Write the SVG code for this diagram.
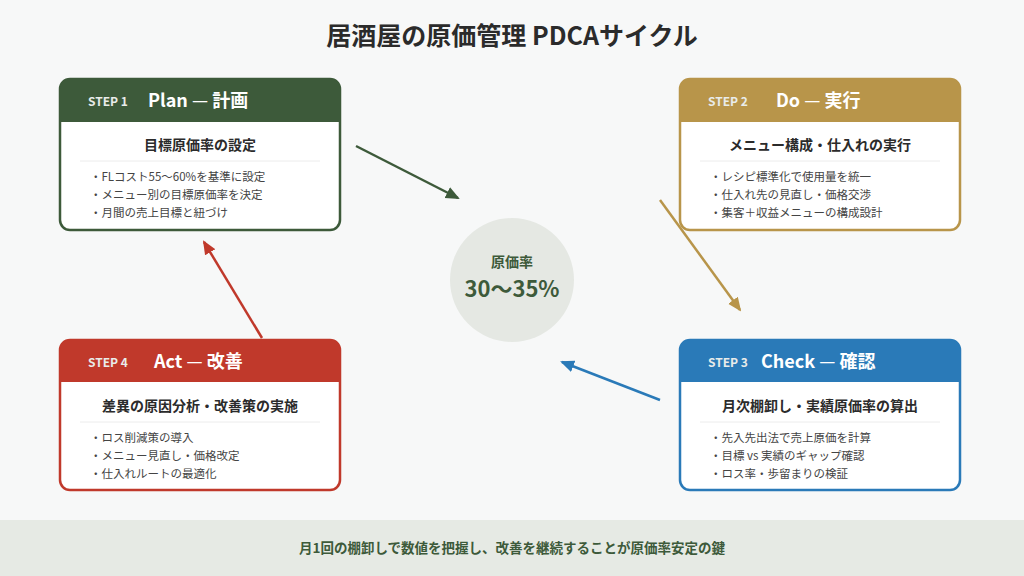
<svg xmlns="http://www.w3.org/2000/svg" width="1024" height="576" viewBox="0 0 1024 576">
<style>
text{font-family:"Noto Sans CJK JP","Noto Sans",sans-serif}
.card{fill:#fff;stroke-width:2.5}
.step{font-size:12px;font-weight:700;fill:#e9ecea}
.ttl{font-size:18px;font-weight:700;fill:#fff}
.d{font-weight:400}
.sub{font-size:14px;font-weight:700;fill:#2b2b2b;text-anchor:middle}
.it{font-size:11.5px;fill:#444}
.sep{stroke:#ececec;stroke-width:1}
</style>
<defs>
<marker id="mg" markerWidth="14" markerHeight="14" refX="12" refY="7" orient="auto" markerUnits="userSpaceOnUse"><path d="M0,1L14,7L0,13z" fill="#3d5a3a"/></marker>
<marker id="my" markerWidth="14" markerHeight="14" refX="12" refY="7" orient="auto" markerUnits="userSpaceOnUse"><path d="M0,1L14,7L0,13z" fill="#b8954a"/></marker>
<marker id="mb" markerWidth="14" markerHeight="14" refX="12" refY="7" orient="auto" markerUnits="userSpaceOnUse"><path d="M0,1L14,7L0,13z" fill="#2a7ab8"/></marker>
<marker id="mr" markerWidth="14" markerHeight="14" refX="12" refY="7" orient="auto" markerUnits="userSpaceOnUse"><path d="M0,1L14,7L0,13z" fill="#c0392b"/></marker>
</defs>
<rect width="1024" height="576" fill="#f7f8f8"/>
<text x="512" y="45" text-anchor="middle" font-size="25" font-weight="700" fill="#2b2b2b">居酒屋の原価管理 PDCAサイクル</text>
<g id="center"><circle cx="512" cy="280" r="62" fill="#e5e8e3"/>
<text x="512" y="267" text-anchor="middle" font-size="14" font-weight="700" fill="#3d5a3a">原価率</text>
<text x="512" y="297" text-anchor="middle" font-size="22" font-weight="700" fill="#3d5a3a">30〜35%</text></g>
<g id="connectors" stroke-width="2.5">
<line x1="356" y1="146" x2="458" y2="198" stroke="#3d5a3a" marker-end="url(#mg)"/>
<line x1="660" y1="200" x2="740" y2="310" stroke="#b8954a" marker-end="url(#my)"/>
<line x1="660" y1="400" x2="562" y2="362" stroke="#2a7ab8" marker-end="url(#mb)"/>
<line x1="262" y1="338" x2="204" y2="242" stroke="#c0392b" marker-end="url(#mr)"/>
</g>
<g id="plan">
<rect class="card" x="60" y="79" width="280" height="151" rx="10" stroke="#3d5a3a"/>
<path d="M60,89a10,10 0 0 1 10,-10h260a10,10 0 0 1 10,10v33h-280z" fill="#3d5a3a"/>
<text class="step" x="88" y="106">STEP 1</text><text class="ttl" x="148" y="107">Plan <tspan class="d">—</tspan> 計画</text>
<text class="sub" x="200" y="150">目標原価率の設定</text><line class="sep" x1="80" y1="161" x2="320" y2="161"/>
<text class="it" x="90" y="181">・FLコスト55〜60%を基準に設定</text>
<text class="it" x="90" y="199">・メニュー別の目標原価率を決定</text>
<text class="it" x="90" y="217">・月間の売上目標と紐づけ</text>
</g>
<g id="do">
<rect class="card" x="680" y="79" width="280" height="151" rx="10" stroke="#b8954a"/>
<path d="M680,89a10,10 0 0 1 10,-10h260a10,10 0 0 1 10,10v33h-280z" fill="#b8954a"/>
<text class="step" x="708" y="106">STEP 2</text><text class="ttl" x="776" y="107">Do <tspan class="d">—</tspan> 実行</text>
<text class="sub" x="820" y="150">メニュー構成・仕入れの実行</text><line class="sep" x1="700" y1="161" x2="940" y2="161"/>
<text class="it" x="710" y="181">・レシピ標準化で使用量を統一</text>
<text class="it" x="710" y="199">・仕入れ先の見直し・価格交渉</text>
<text class="it" x="710" y="217">・集客＋収益メニューの構成設計</text>
</g>
<g id="check">
<rect class="card" x="680" y="340" width="280" height="150" rx="10" stroke="#2a7ab8"/>
<path d="M680,350a10,10 0 0 1 10,-10h260a10,10 0 0 1 10,10v32h-280z" fill="#2a7ab8"/>
<text class="step" x="708" y="367">STEP 3</text><text class="ttl" x="761" y="368">Check <tspan class="d">—</tspan> 確認</text>
<text class="sub" x="820" y="411">月次棚卸し・実績原価率の算出</text><line class="sep" x1="700" y1="422" x2="940" y2="422"/>
<text class="it" x="710" y="442">・先入先出法で売上原価を計算</text>
<text class="it" x="710" y="460">・目標 vs 実績のギャップ確認</text>
<text class="it" x="710" y="478">・ロス率・歩留まりの検証</text>
</g>
<g id="act">
<rect class="card" x="60" y="340" width="280" height="150" rx="10" stroke="#c0392b"/>
<path d="M60,350a10,10 0 0 1 10,-10h260a10,10 0 0 1 10,10v32h-280z" fill="#c0392b"/>
<text class="step" x="88" y="367">STEP 4</text><text class="ttl" x="154" y="368">Act <tspan class="d">—</tspan> 改善</text>
<text class="sub" x="200" y="411">差異の原因分析・改善策の実施</text><line class="sep" x1="80" y1="422" x2="320" y2="422"/>
<text class="it" x="90" y="442">・ロス削減策の導入</text>
<text class="it" x="90" y="460">・メニュー見直し・価格改定</text>
<text class="it" x="90" y="478">・仕入れルートの最適化</text>
</g>
<rect x="0" y="520" width="1024" height="56" fill="#e6eae4"/>
<text x="512" y="553" text-anchor="middle" font-size="13.5" font-weight="700" fill="#3d5a3a">月1回の棚卸しで数値を把握し、改善を継続することが原価率安定の鍵</text>
</svg>
